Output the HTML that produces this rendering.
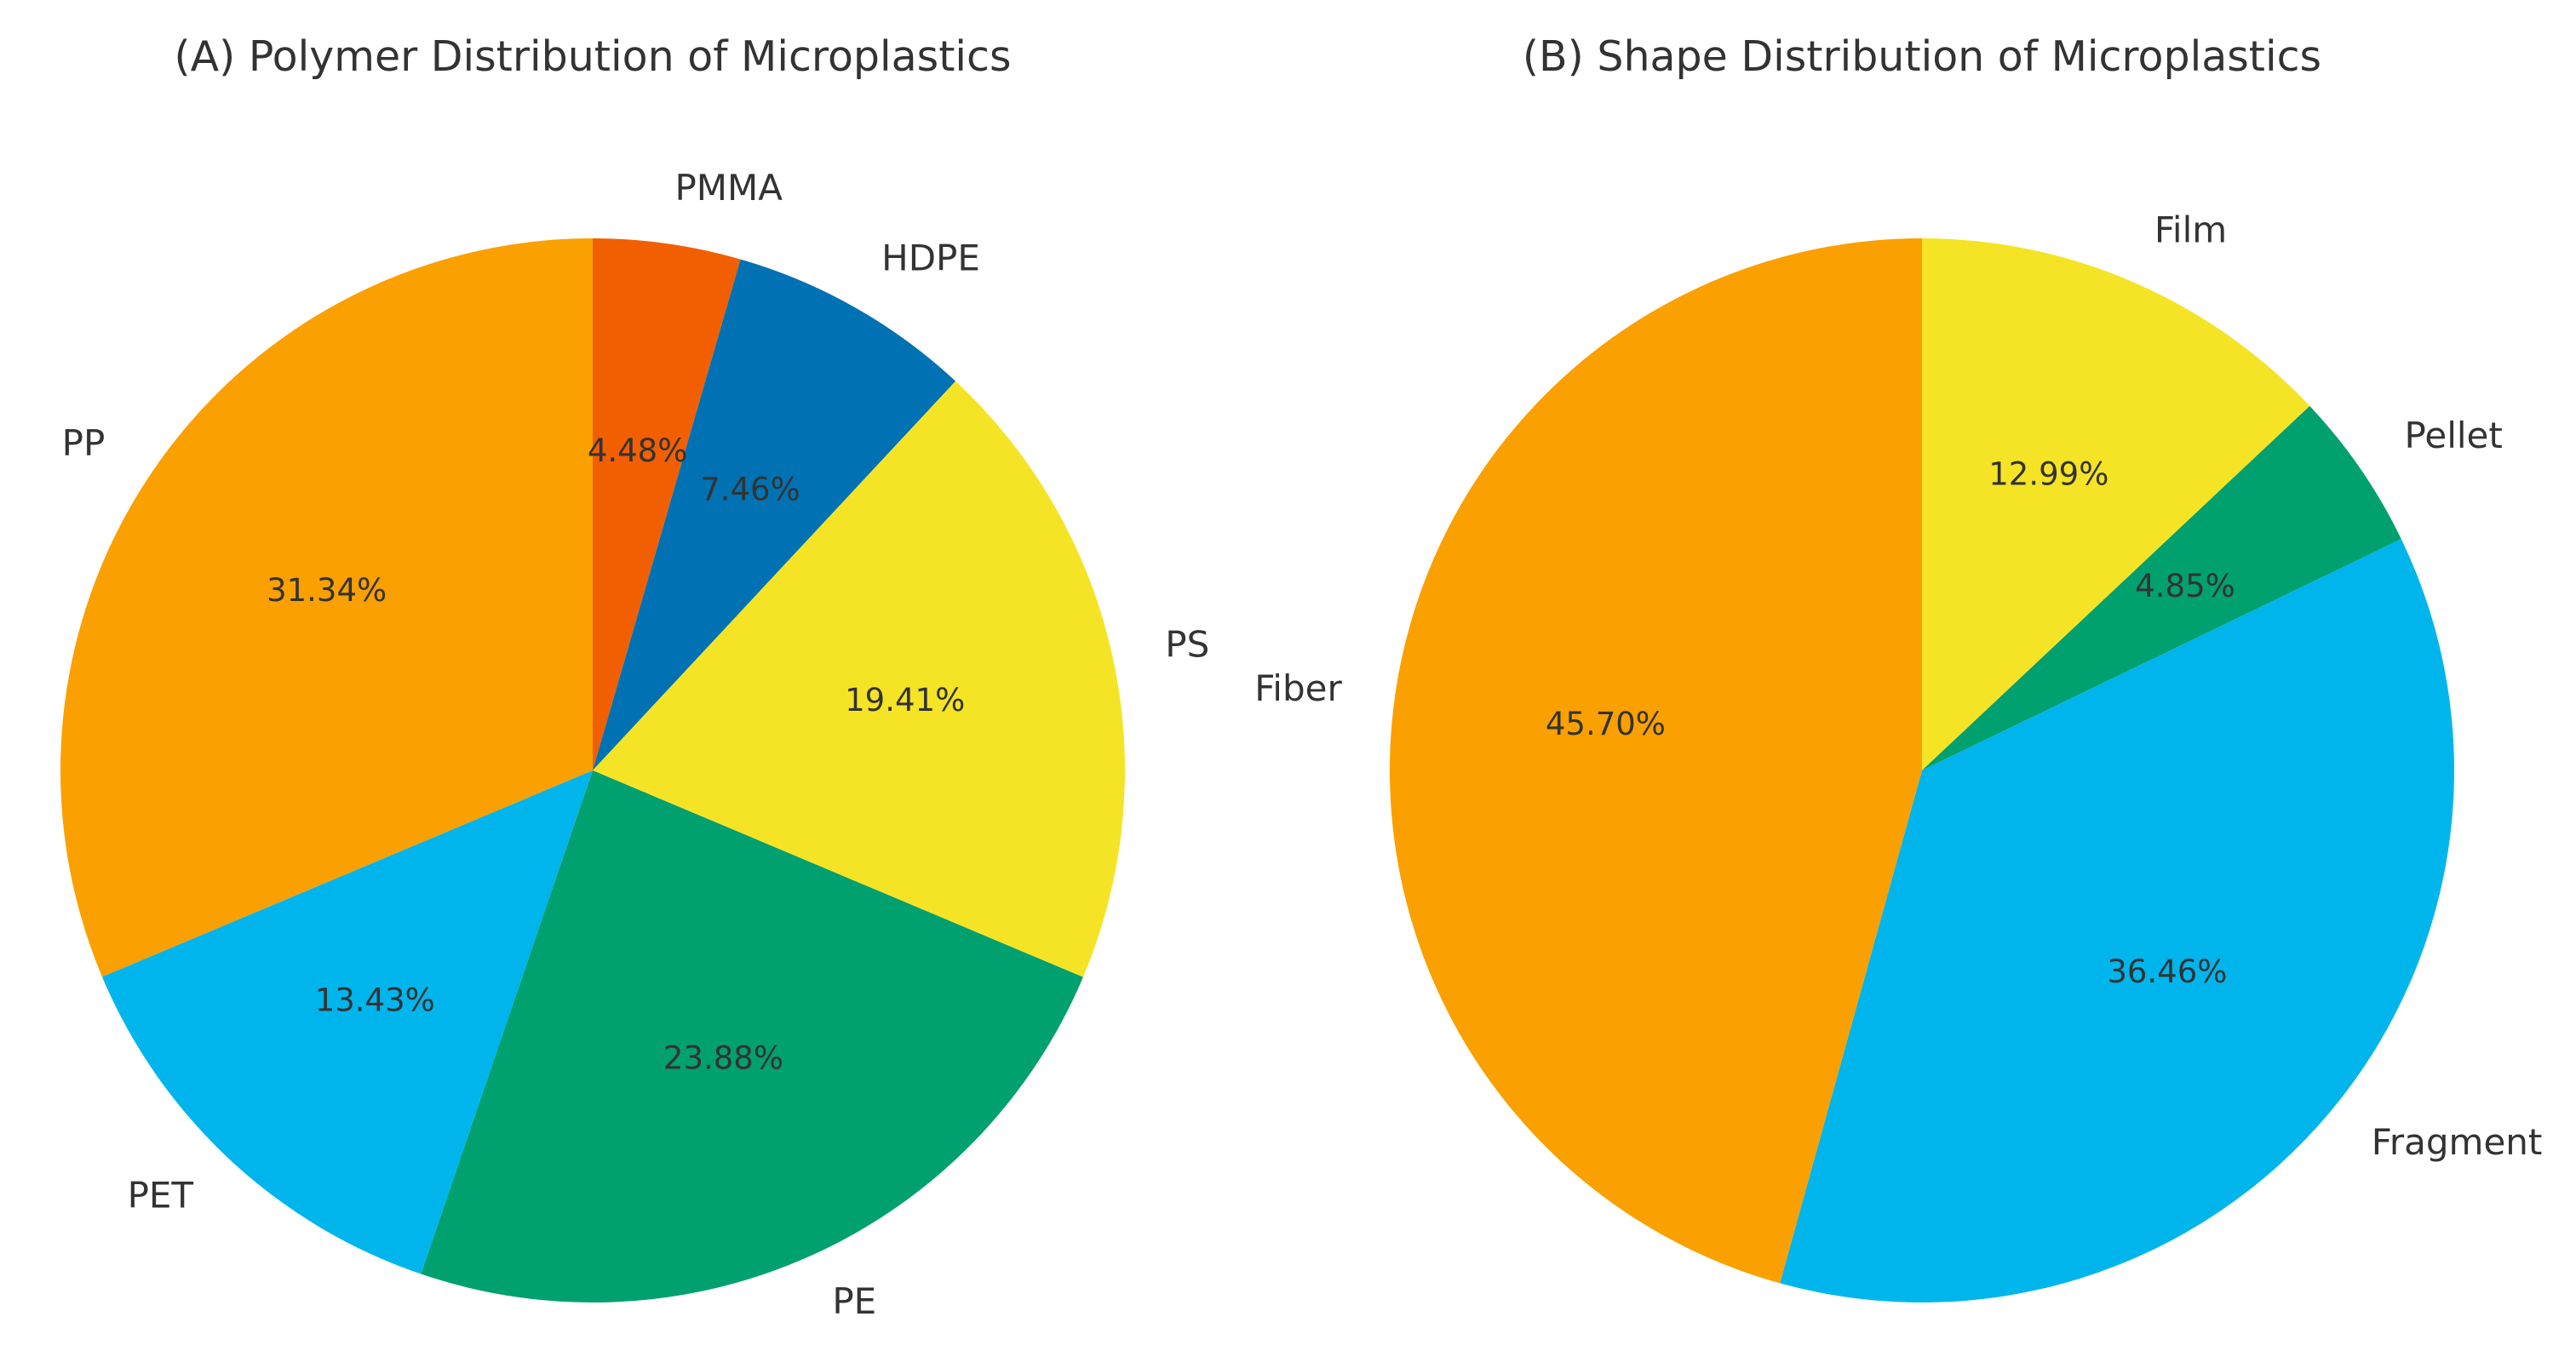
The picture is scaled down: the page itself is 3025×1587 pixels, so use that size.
<!DOCTYPE html>
<html><head><meta charset="utf-8"><style>
html,body{margin:0;padding:0;background:#fff;}
svg{display:block;}
text{font-family:"DejaVu Sans","Liberation Sans",sans-serif;fill:#333;}
</style></head><body>
<svg id="chart" width="3025" height="1587" viewBox="0 0 3025 1587" xmlns="http://www.w3.org/2000/svg">
<text x="696" y="83" text-anchor="middle" font-size="49">(A) Polymer Distribution of Microplastics</text>
<text x="2257" y="83" text-anchor="middle" font-size="49">(B) Shape Distribution of Microplastics</text>
<g id="pieA"></g>
<g id="pieB"></g>
</svg>
<script>
const polymerLabels = ["PMMA","HDPE","PS","PE","PET","PP"];
const polymerValues = [4.48,7.46,19.41,23.88,13.43,31.34];
const polymerColors = ["#F25F00","#0072B4","#F5E426","#00A06F","#00B5EC","#FAA000"];
const shapeLabels = ["Film","Pellet","Fragment","Fiber"];
const shapeValues = [12.99,4.85,36.46,45.70];
const shapeColors = ["#F5E426","#00A06F","#00B5EC","#FAA000"];
const NS="http://www.w3.org/2000/svg";
function drawPie(gid, cx, cy, r, labels, values, colors, prefix){
  const g=document.getElementById(gid);
  const total=values.reduce((a,b)=>a+b,0);
  let cum=0;
  const pt=(a,rr)=>[cx+rr*Math.sin(a), cy-rr*Math.cos(a)];
  values.forEach((v,i)=>{
    const a0=cum/total*2*Math.PI; cum+=v; const a1=cum/total*2*Math.PI;
    const p0=pt(a0,r), p1=pt(a1,r);
    const large=(a1-a0)>Math.PI?1:0;
    const path=document.createElementNS(NS,'path');
    path.setAttribute('d',`M${cx},${cy} L${p0[0]},${p0[1]} A${r},${r} 0 ${large} 1 ${p1[0]},${p1[1]} Z`);
    path.setAttribute('fill',colors[i]);
    
    
    g.appendChild(path);
  });
  cum=0;
  values.forEach((v,i)=>{
    const am=(cum+v/2)/total*2*Math.PI; cum+=v;
    const lp=pt(am,1.1*r);
    const t=document.createElementNS(NS,'text');
    t.setAttribute('x',lp[0]); t.setAttribute('y',lp[1]-4);
    t.setAttribute('font-size','42');
    t.setAttribute('dominant-baseline','central');
    t.setAttribute('text-anchor', Math.sin(am)<0?'end':'start');
    t.textContent=labels[i];
    
    
    g.appendChild(t);
    const pp=pt(am,0.6*r);
    const t2=document.createElementNS(NS,'text');
    t2.setAttribute('x',pp[0]); t2.setAttribute('y',pp[1]-4);
    t2.setAttribute('font-size','37');
    t2.setAttribute('dominant-baseline','central');
    t2.setAttribute('text-anchor','middle');
    t2.textContent=(v/total*100).toFixed(2)+'%';
    
    
    g.appendChild(t2);
  });
}
drawPie('pieA',696,905,625,polymerLabels,polymerValues,polymerColors,'polymer');
drawPie('pieB',2257,905,625,shapeLabels,shapeValues,shapeColors,'shape');
</script>
</body></html>
